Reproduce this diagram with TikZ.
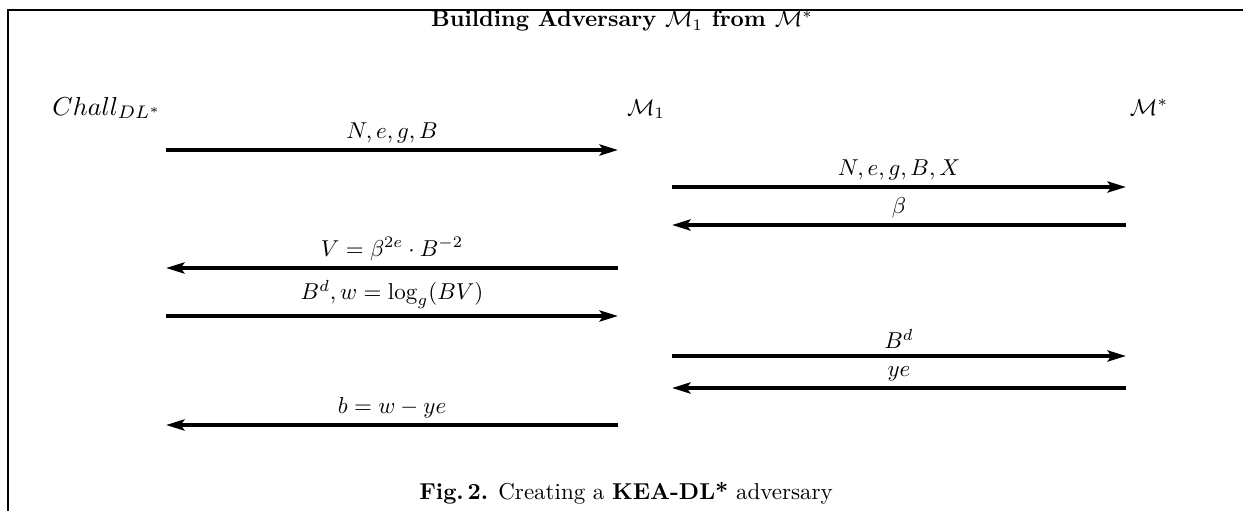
\documentclass[tikz,border=0pt]{standalone}
\usepackage{graphicx}
\usetikzlibrary{arrows.meta}
\begin{document}
\begin{tikzpicture}[x=0.435pt,y=-0.435pt,
  msg/.style={line width=1.55pt,-{Stealth[length=8pt,width=4.8pt,inset=1.6pt]}},
  lbl/.style={inner sep=0pt,anchor=south,yshift=2.4pt},
  actor/.style={inner sep=0pt,anchor=base},
  frameline/.style={line width=0.95pt}]
\useasboundingbox (0,0) rectangle (1243,510);
% frame
\coordinate (fl) at (8,520);
\coordinate (fc) at (8,10);
\coordinate (fr) at (1260,10);
\draw[frameline] (fl) -- (fc) -- (fr);
% title
\node[actor] (title) at (622,27) {\bfseries Building Adversary $\mathcal{M}_1$ from $\mathcal{M}^*$};
% actors
\node[actor] (chall) at (107,115) {\scalebox{1.13}{$Chall_{DL^*}$}};
\node[actor] (m1) at (646,115) {$\mathcal{M}_1$};
\node[actor] (mstar) at (1149,115) {$\mathcal{M}^*$};
% arrow end points
\coordinate (a1s) at (166,150); \coordinate (a1e) at (618,150);
\coordinate (a2s) at (672,187); \coordinate (a2e) at (1126,187);
\coordinate (a3s) at (1126,225); \coordinate (a3e) at (672,225);
\coordinate (a4s) at (618,268); \coordinate (a4e) at (166,268);
\coordinate (a5s) at (166,316); \coordinate (a5e) at (618,316);
\coordinate (a6s) at (672,356); \coordinate (a6e) at (1126,356);
\coordinate (a7s) at (1126,388); \coordinate (a7e) at (672,388);
\coordinate (a8s) at (618,425); \coordinate (a8e) at (166,425);
\draw[msg] (a1s) -- node[lbl] (l1) {$N,e,g,B$} (a1e);
\draw[msg] (a2s) -- node[lbl] (l2) {$N,e,g,B,X$} (a2e);
\draw[msg] (a3s) -- node[lbl] (l3) {$\beta$} (a3e);
\draw[msg] (a4s) -- node[lbl] (l4) {$V=\beta^{2e}\cdot B^{-2}$} (a4e);
\draw[msg] (a5s) -- node[lbl] (l5) {$B^d,w=\log_g(BV)$} (a5e);
\draw[msg] (a6s) -- node[lbl] (l6) {$B^d$} (a6e);
\draw[msg] (a7s) -- node[lbl] (l7) {$ye$} (a7e);
\draw[msg] (a8s) -- node[lbl] (l8) {$b=w-ye$} (a8e);
% caption
\node[actor] (caption) at (626,499) {\textbf{Fig.\,2.} Creating a \textbf{KEA-DL*} adversary};
\end{tikzpicture}
\end{document}
